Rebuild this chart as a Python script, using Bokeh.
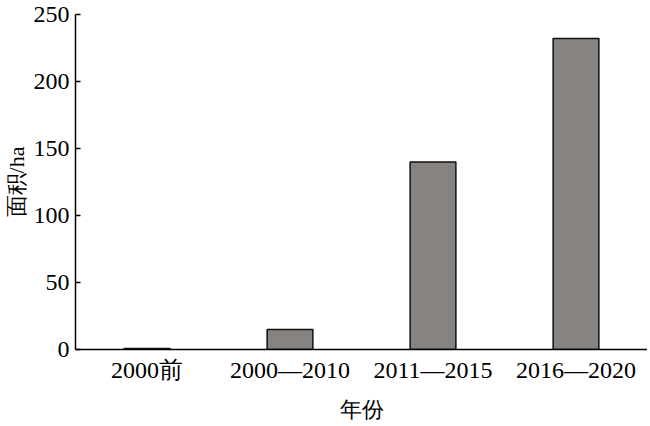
from bokeh.plotting import figure
from bokeh.models import FactorRange, Range1d, ColumnDataSource
from bokeh.embed import file_html
from bokeh.resources import INLINE

categories = ["2000前", "2000—2010", "2011—2015", "2016—2020"]
area_ha = [0.8, 15, 140, 232]
y_ticks = [0, 50, 100, 150, 200, 250]

src = ColumnDataSource(data=dict(cat=categories, val=area_ha))

FONT = "Liberation Serif"

p = figure(x_range=FactorRange(factors=categories, range_padding=0),
           y_range=Range1d(0, 250),
           frame_width=572, frame_height=335,
           output_backend="svg", toolbar_location=None,
           min_border_left=70, min_border_right=0,
           min_border_top=14, min_border_bottom=60)

p.vbar(x="cat", top="val", width=0.32, source=src,
       fill_color="#878380", line_color="#111111", line_width=1.5)

p.outline_line_color = None
p.grid.visible = False
p.background_fill_color = "white"
p.border_fill_color = "white"

# y axis
ya = p.yaxis[0]
ya.ticker = y_ticks
ya.major_tick_in = 5
ya.major_tick_out = 0
ya.minor_tick_line_color = None
ya.axis_line_width = 1.5
ya.axis_line_color = "black"
ya.major_tick_line_width = 1.5
ya.major_label_standoff = 6
ya.major_label_text_font = FONT
ya.major_label_text_font_size = "24px"
ya.major_label_text_color = "black"
ya.axis_label = "面积/ha"
ya.axis_label_text_font = FONT
ya.axis_label_text_font_size = "22px"
ya.axis_label_text_font_style = "normal"
ya.axis_label_text_color = "black"
ya.axis_label_standoff = 2

# x axis
xa = p.xaxis[0]
xa.major_tick_line_color = None
xa.minor_tick_line_color = None
xa.axis_line_width = 1.5
xa.axis_line_color = "black"
xa.major_label_standoff = 1
xa.major_label_text_font = FONT
xa.major_label_text_font_size = "24px"
xa.major_label_text_color = "black"
xa.axis_label = "年份"
xa.axis_label_text_font = FONT
xa.axis_label_text_font_size = "22px"
xa.axis_label_text_font_style = "normal"
xa.axis_label_text_color = "black"
xa.axis_label_standoff = 11

open("out.html", "w").write(file_html(p, INLINE))
